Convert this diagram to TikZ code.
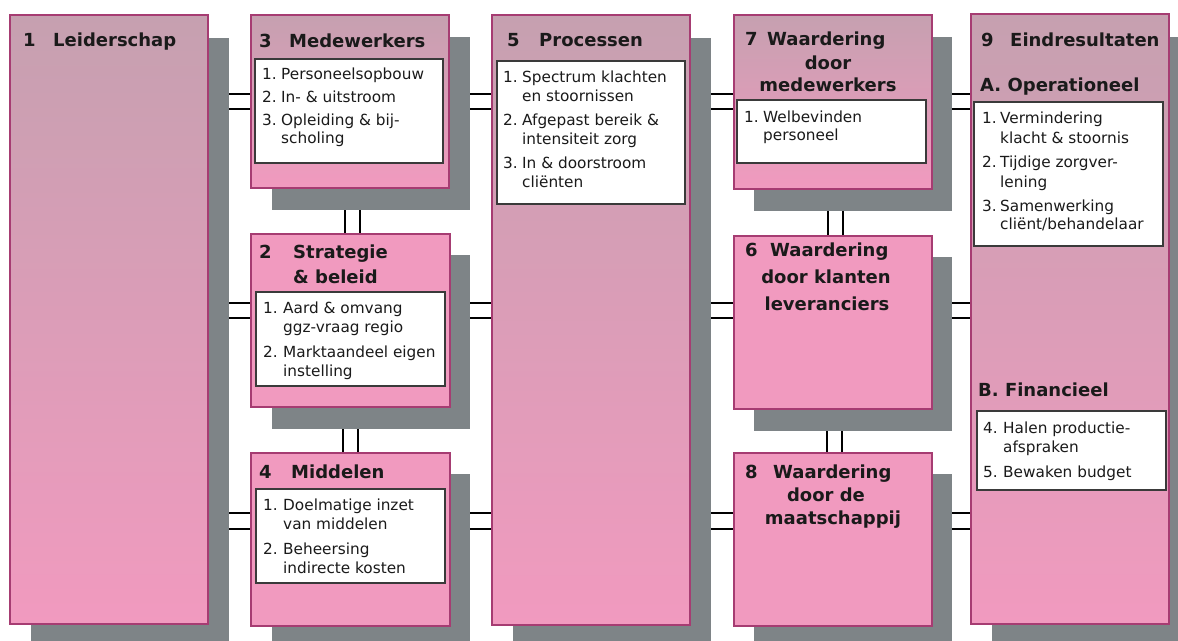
\documentclass[tikz,border=0pt]{standalone}
\usepackage{fontspec}
\setmainfont{DejaVu Sans}
\usetikzlibrary{backgrounds}
\definecolor{mauve}{HTML}{C6A0B0}
\definecolor{pinkc}{HTML}{F19ABF}
\definecolor{bord}{HTML}{A63C72}
\definecolor{shadowc}{HTML}{7E8487}
\definecolor{innerc}{HTML}{3A3A3A}
\definecolor{txtc}{HTML}{1A1A1A}
\newcounter{tn}
\newcommand\T[4][txt]{\stepcounter{tn}\node[#1] (t\arabic{tn}) at (#2,#3) {#4};}
\tikzset{
  boxbase/.style={anchor=north west, inner sep=0pt, outer sep=0pt},
  grad/.style={boxbase, draw=bord, line width=1.5pt, top color=mauve, bottom color=pinkc},
  flat/.style={boxbase, draw=bord, line width=1.5pt, fill=pinkc},
  shadowbox/.style={boxbase, fill=shadowc},
  inner/.style={boxbase, draw=innerc, fill=white, line width=1.2pt},
  txt/.style={anchor=base west, inner sep=0pt, text=txtc, font=\fontsize{15.3}{18}\selectfont},
  ttl/.style={anchor=base west, inner sep=0pt, text=txtc, font=\bfseries\fontsize{18}{22}\selectfont},
  ttlc/.style={ttl, anchor=base},
  conn/.style={draw=black, line width=1.2pt},
}
\begin{document}
\begin{tikzpicture}[x=1pt,y=-1pt]
\useasboundingbox (0,0) rectangle (1178,640);
\clip (0,0) rectangle (1178,640);
% shadows
\node[shadowbox, minimum width=198, minimum height=610] (s1) at (31,38) {};
\node[shadowbox, minimum width=198, minimum height=173] (s3) at (272,37) {};
\node[shadowbox, minimum width=198, minimum height=174] (s2) at (272,255) {};
\node[shadowbox, minimum width=198, minimum height=173] (s4) at (272,474) {};
\node[shadowbox, minimum width=198, minimum height=610] (s5) at (513,38) {};
\node[shadowbox, minimum width=198, minimum height=174] (s7) at (754,37) {};
\node[shadowbox, minimum width=198, minimum height=174] (s6) at (754,257) {};
\node[shadowbox, minimum width=198, minimum height=173] (s8) at (754,474) {};
\node[shadowbox, minimum width=198, minimum height=610] (s9) at (992,37) {};
% boxes
\node[grad, minimum width=198, minimum height=609] (b1) at (10,15) {};
\node[grad, minimum width=198, minimum height=173] (b3) at (251,15) {};
\node[flat, minimum width=199, minimum height=173] (b2) at (251,234) {};
\node[flat, minimum width=199, minimum height=173] (b4) at (251,453) {};
\node[grad, minimum width=198, minimum height=610] (b5) at (492,15) {};
\node[grad, minimum width=198, minimum height=174] (b7) at (734,15) {};
\node[flat, minimum width=198, minimum height=173] (b6) at (734,236) {};
\node[flat, minimum width=198, minimum height=173] (b8) at (734,453) {};
\node[grad, minimum width=198, minimum height=610] (b9) at (971,14) {};
% inner boxes
\node[inner, minimum width=188, minimum height=104] (i3) at (255,59) {};
\node[inner, minimum width=189, minimum height=94] (i2) at (256,292) {};
\node[inner, minimum width=189, minimum height=94] (i4) at (256,489) {};
\node[inner, minimum width=188, minimum height=143] (i5) at (497,61) {};
\node[inner, minimum width=189, minimum height=63] (i7) at (737,100) {};
\node[inner, minimum width=189, minimum height=144] (i9a) at (974,102) {};
\node[inner, minimum width=189, minimum height=79] (i9b) at (977,411) {};
% connectors behind
\begin{pgfonlayer}{background}
\foreach \a/\b/\ya/\yb in {b1/b3/94/109, b1/b2/303/318, b1/b4/513/529,
    b3/b5/94/109, b2/b5/303/318, b4/b5/513/529,
    b5/b7/94/109, b5/b6/303/318, b5/b8/513/529,
    b7/b9/94/109, b6/b9/303/318, b8/b9/513/529}{
  \draw[conn] (\a.east |- 0,\ya) -- (\b.west |- 0,\ya);
  \draw[conn] (\a.east |- 0,\yb) -- (\b.west |- 0,\yb);
}
\foreach \a/\b/\xa/\xb in {b3/b2/345/360, b2/b4/343/358, b7/b6/828/843, b6/b8/827/842}{
  \draw[conn] (\a.south -| \xa,0) -- (\b.north -| \xa,0);
  \draw[conn] (\a.south -| \xb,0) -- (\b.north -| \xb,0);
}
\end{pgfonlayer}
% titles
\T[ttl]{23}{46}{1}\T[ttl]{53}{46}{Leiderschap}
\T[ttl]{259}{47}{3}\T[ttl]{289}{47}{Medewerkers}
\T[ttl]{259}{258}{2}\T[ttl]{293}{258}{Strategie}\T[ttl]{293}{283}{\& beleid}
\T[ttl]{259}{478}{4}\T[ttl]{291}{478}{Middelen}
\T[ttl]{507}{46}{5}\T[ttl]{539}{46}{Processen}
\T[ttl]{745}{45}{7}\T[ttl]{767}{45}{Waardering}\T[ttlc]{828}{69}{door}\T[ttlc]{828}{91}{medewerkers}
\T[ttl]{745}{256}{6}\T[ttl]{770}{256}{Waardering}\T[ttlc]{826}{283}{door klanten}\T[ttlc]{827}{310}{leveranciers}
\T[ttl]{745}{478}{8}\T[ttl]{773}{478}{Waardering}\T[ttlc]{826}{501}{door de}\T[ttlc]{833}{524}{maatschappij}
\T[ttl]{981}{46}{9}\T[ttl]{1010}{46}{Eindresultaten}
\T[ttl]{980}{91}{A. Operationeel}
\T[ttl]{978}{396}{B. Financieel}
% box 3 items
\T{262}{79}{1.}\T{281}{79}{Personeelsopbouw}
\T{262}{102}{2.}\T{281}{102}{In- \& uitstroom}
\T{262}{125}{3.}\T{281}{125}{Opleiding \& bij-}\T{281}{143}{scholing}
% box 2 items
\T{263}{313}{1.}\T{283}{313}{Aard \& omvang}\T{283}{332}{ggz-vraag regio}
\T{263}{357}{2.}\T{283}{357}{Marktaandeel eigen}\T{283}{376}{instelling}
% box 4 items
\T{263}{510}{1.}\T{283}{510}{Doelmatige inzet}\T{283}{529}{van middelen}
\T{263}{554}{2.}\T{283}{554}{Beheersing}\T{283}{573}{indirecte kosten}
% box 5 items
\T{503}{82}{1.}\T{522}{82}{Spectrum klachten}\T{522}{101}{en stoornissen}
\T{503}{125}{2.}\T{522}{125}{Afgepast bereik \&}\T{522}{144}{intensiteit zorg}
\T{503}{168}{3.}\T{522}{168}{In \& doorstroom}\T{522}{187}{cliënten}
% box 7 items
\T{744}{122}{1.}\T{763}{122}{Welbevinden}\T{763}{140}{personeel}
% box 9 items
\T{982}{123}{1.}\T{1000}{123}{Vermindering}\T{1000}{143}{klacht \& stoornis}
\T{982}{167}{2.}\T{1000}{167}{Tijdige zorgver-}\T{1000}{187}{lening}
\T{982}{211}{3.}\T{1000}{211}{Samenwerking}\T{1000}{229}{cliënt/behandelaar}
\T{983}{433}{4.}\T{1003}{433}{Halen productie-}\T{1003}{452}{afspraken}
\T{983}{477}{5.}\T{1003}{477}{Bewaken budget}
\end{tikzpicture}
\end{document}
